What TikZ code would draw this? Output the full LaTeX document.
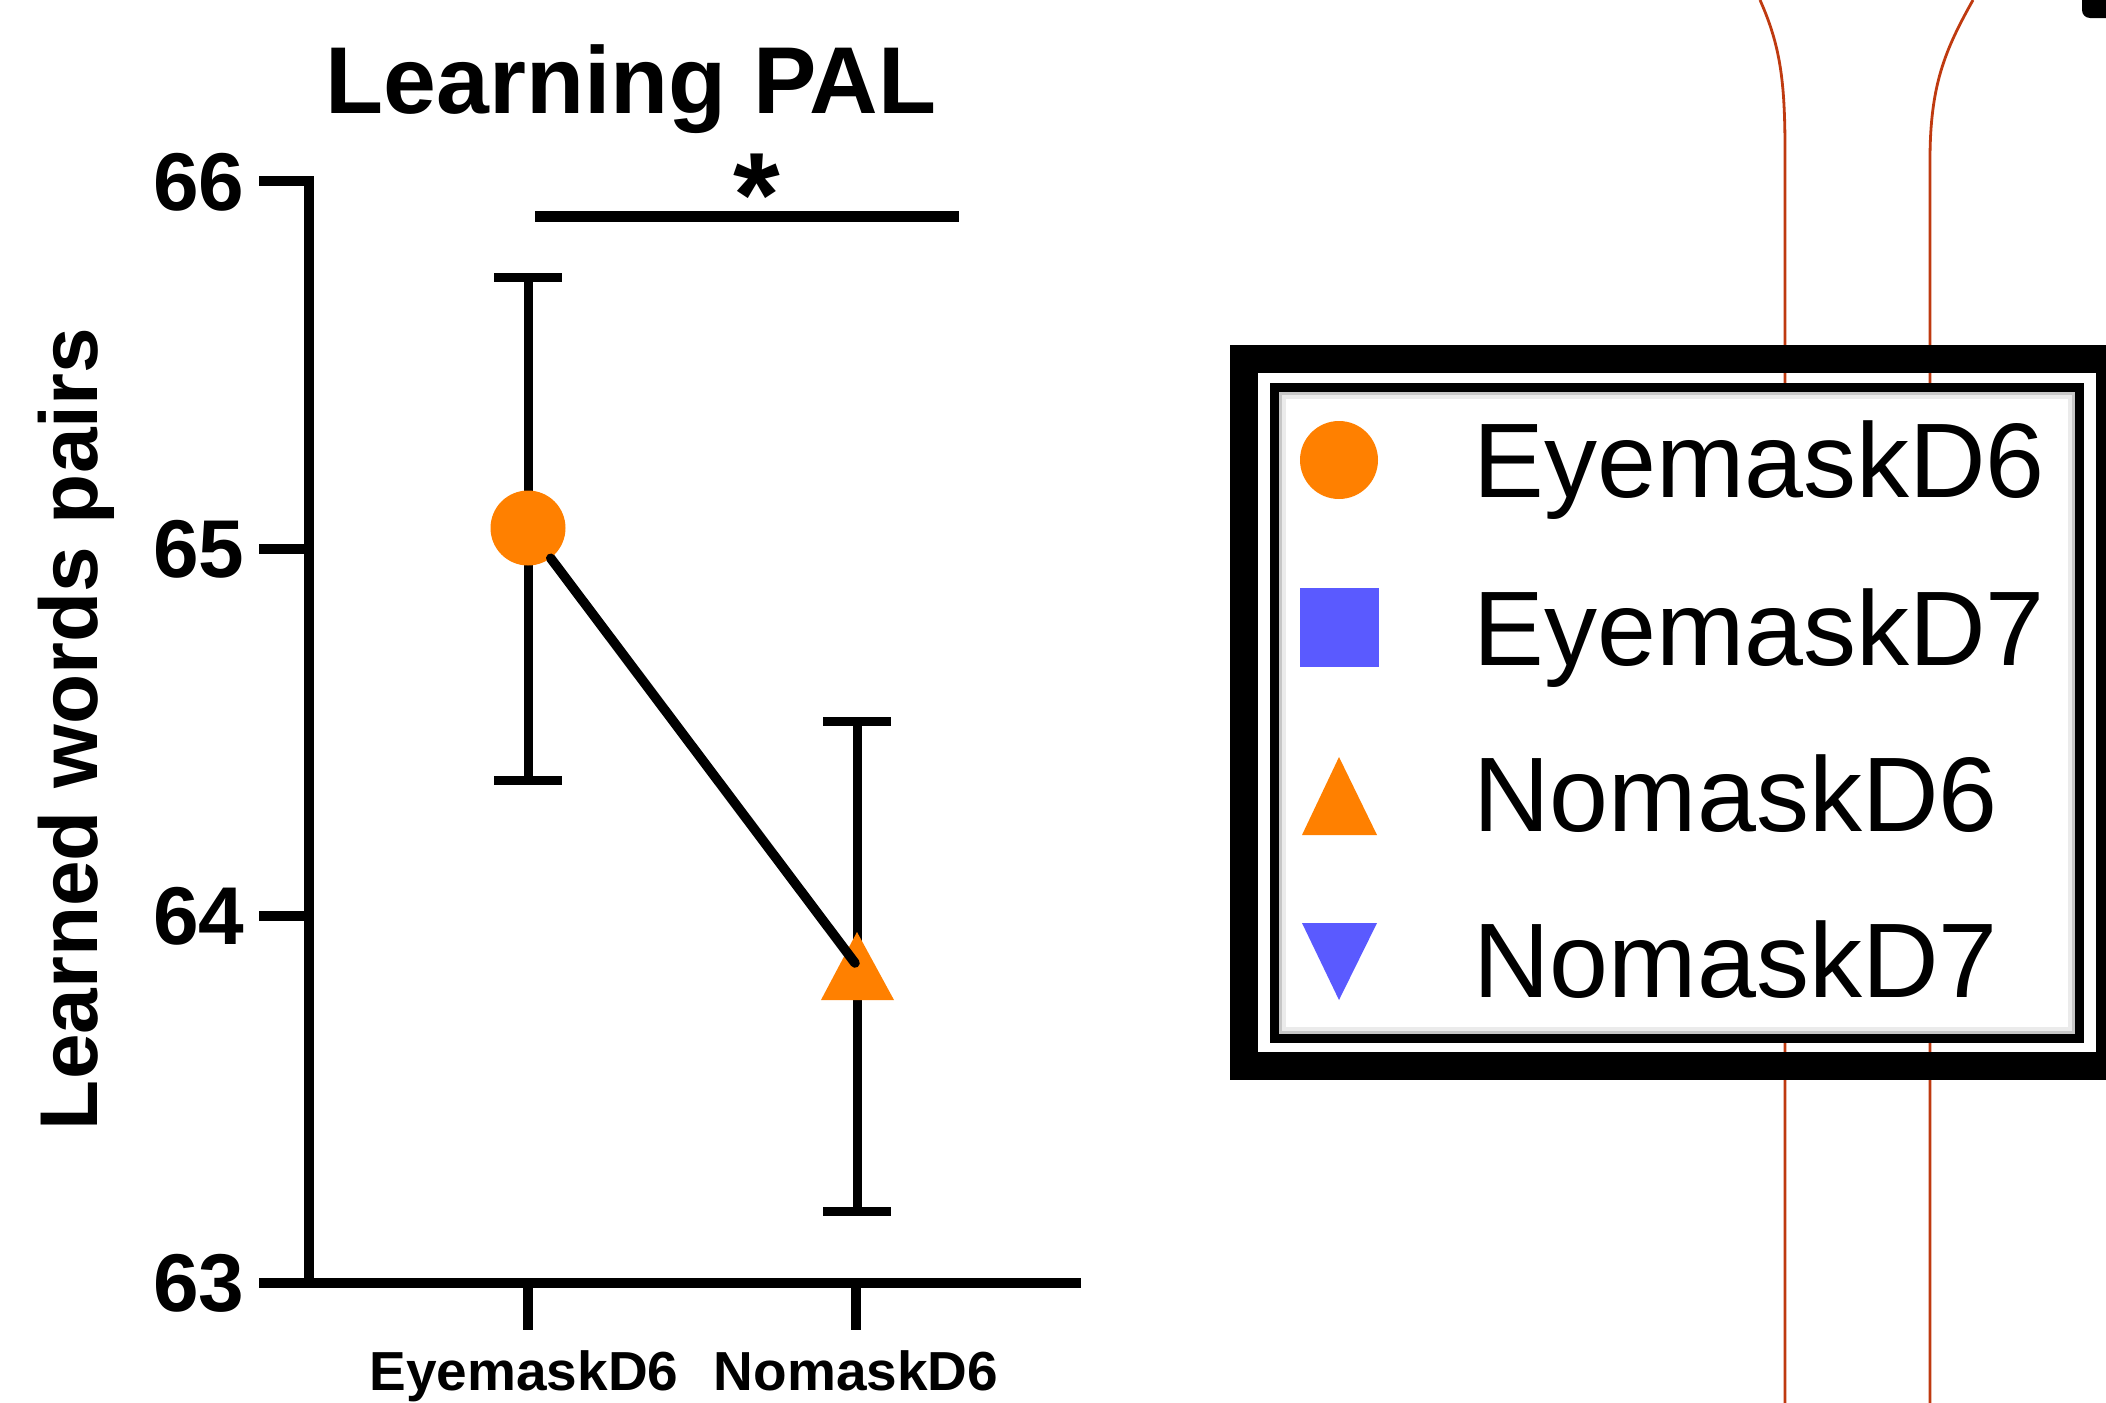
\documentclass[tikz,border=0pt]{standalone}
\usepackage{fontspec}
\setmainfont{Liberation Sans}
\usetikzlibrary{shapes.geometric,positioning}
\definecolor{cOrange}{HTML}{FF8000}
\definecolor{cBlue}{HTML}{5A5AFF}
\definecolor{cWire}{HTML}{BF3A10}
\tikzset{
  axisln/.style  = {line width=5pt, draw=black},
  ebar/.style    = {line width=4.5pt, draw=black},
  dline/.style   = {line width=4.8pt, draw=black, line cap=round},
  sigbar/.style  = {line width=5.5pt, draw=black},
  wire/.style    = {line width=1.4pt, draw=cWire},
  dotmk/.style   = {circle, fill=#1, draw=none, inner sep=0pt, minimum size=37.5pt},
  dotmk/.default = cOrange,
  sqmk/.style    = {rectangle, fill=cBlue, draw=none, inner sep=0pt, minimum size=39.5pt},
  keyouter/.style= {line width=14pt, draw=black},
  keyinner/.style= {line width=4.5pt, draw=black, fill=white},
  keytxt/.style  = {inner sep=0pt, font=\fontsize{53pt}{60pt}\selectfont},
  ticklab/.style = {inner sep=0pt, font=\fontsize{41pt}{48pt}\selectfont\bfseries},
  axlab/.style   = {inner sep=0pt, font=\fontsize{41pt}{48pt}\selectfont\bfseries},
  ttl/.style     = {inner sep=0pt, font=\fontsize{47.5pt}{54pt}\selectfont\bfseries},
  xlab/.style    = {inner sep=0pt, font=\fontsize{27.5pt}{32pt}\selectfont\bfseries},
  sigmark/.style = {inner sep=0pt, font=\fontsize{60pt}{66pt}\selectfont\bfseries},
}
\begin{document}
\begin{tikzpicture}[x=0.5pt, y=-0.5pt]
  \useasboundingbox (0,0) rectangle (2106,1403);
  \clip (0,0) rectangle (2106,1403);

  % wires behind the key
  \draw[wire] (1760,0) .. controls (1780,45) and (1785,80) .. (1785,150) -- (1785,1403);
  \draw[wire] (1973,0) .. controls (1945,50) and (1930,85) .. (1930,160) -- (1930,1403);
  \fill[black, rounded corners=4pt] (2082,-30) rectangle (2130,18);

  % axes
  \draw[axisln] (259,181) -- (309,181) -- (309,1283);
  \draw[axisln] (259,1283) -- (1081,1283);
  \foreach \yy in {549,916} {
    \draw[axisln] (259,\yy) -- (309,\yy);
  }
  \draw[axisln] (528,1283) -- (528,1330);
  \draw[axisln] (856,1283) -- (856,1330);
  \node[ticklab, anchor=east] (t66) at (245,182) {66};
  \node[ticklab, anchor=east] (t65) at (245,549) {65};
  \node[ticklab, anchor=east] (t64) at (245,916) {64};
  \node[ticklab, anchor=east] (t63) at (245,1283) {63};
  \node[axlab, rotate=90, anchor=base] (ylab) at (97,729) {Learned words pairs};
  \node[ttl, anchor=base] (title) at (631,113) {Learning PAL};
  \node[xlab, anchor=base] (xEye) at (524,1390) {EyemaskD6};
  \node[xlab, anchor=base] (xNo) at (856,1390) {NomaskD6};

  % error bars and means
  \draw[ebar] (528,277) -- (528,780) (494,277) -- (562,277) (494,780) -- (562,780);
  \draw[ebar] (857,721) -- (857,1211) (823,721) -- (891,721) (823,1211) -- (891,1211);
  \node[dotmk] (mEye) at (528,528) {};
  \fill[cOrange] (821,1000) -- (857,932) -- (894,1000) -- cycle;
  \coordinate (mNo) at (855,963);
  \draw[dline] (mEye) -- (mNo);

  % significance
  \draw[sigbar] (535,216) -- (959,216);
  \node[sigmark, anchor=base] (sig) at (757,236) {*};

  % key
  \draw[keyouter] (1244,359) rectangle (2110,1066);
  \draw[keyinner] (1274.5,387.5) rectangle (2079.5,1038.5);
  \draw[black!22, line width=1.5pt] (1280.5,393.5) rectangle (2073.5,1032.5);
  \draw[black!8, line width=2pt] (1284,397) rectangle (2070,1029);
  \node[dotmk, minimum size=39pt] (k1) at (1339,460) {};
  \node[sqmk] (k2) at (1339,627) {};
  \fill[cOrange] (1302,835) -- (1339,757) -- (1377,835) -- cycle;
  \fill[cBlue] (1302,923) -- (1339,1000) -- (1377,923) -- cycle;
  \node[keytxt, anchor=base west] (l1) at (1473,497) {EyemaskD6};
  \node[keytxt, anchor=base west] (l2) at (1473,665) {EyemaskD7};
  \node[keytxt, anchor=base west] (l3) at (1473,831) {NomaskD6};
  \node[keytxt, anchor=base west] (l4) at (1473,997) {NomaskD7};
\end{tikzpicture}
\end{document}
